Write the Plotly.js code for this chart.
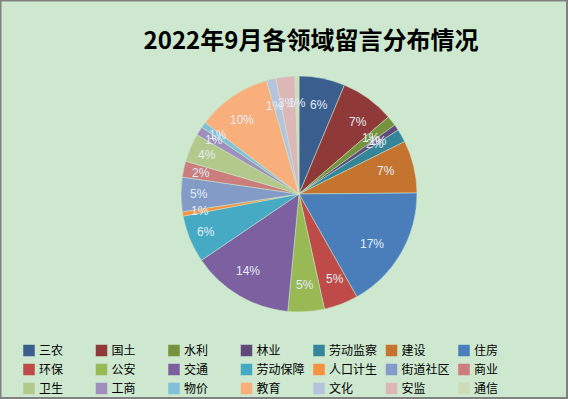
<!DOCTYPE html>
<html><head><meta charset="utf-8">
<script src="https://cdn.plot.ly/plotly-3.0.1.min.js"></script>
<style>html,body{margin:0;padding:0;background:#CDE8CF;}#c{width:568px;height:399px;}</style>
</head><body><div id="c"></div>
<script>
const categories = ['三农','国土','水利','林业','劳动监察','建设','住房','环保','公安','交通','劳动保障','人口计生','街道社区','商业','卫生','工商','物价','教育','文化','安监','通信'];
const values = [6.3,7.4,1.4,0.8,1.8,7.2,17.0,4.7,5.0,14.0,6.5,0.6,4.7,2.2,3.9,1.2,0.8,10.2,1.3,2.6,0.55];
const colors = ['#3A5F8F','#8F3A38','#76923C','#5F4A7A','#34849A','#C4742F','#4A7EBB','#BE4B48','#98B954','#7D60A0','#46AAC5','#F69240','#839BC7','#CB7E7D','#B3C98C','#A08FBC','#7FC1D6','#F9AF7C','#B6C3DD','#DDB6B6','#CDDBB9'];
const W = 568, H = 399, cx = 299, cy = 194, R = 118;
const dom = {x: [(cx-R)/W, (cx+R)/W], y: [1-(cy+R)/H, 1-(cy-R)/H]};
const trace = {
  type: 'pie', labels: categories, values: values, sort: false, direction: 'clockwise', rotation: 0,
  marker: {colors: colors, line: {color: '#CDE8CF', width: 0.5}},
  textinfo: 'none', domain: dom, hoverinfo: 'label+percent'
};
// percentage labels derived from the data (mid-angle of each slice)
const total = values.reduce((a, b) => a + b, 0);
const annotations = [];
let cum = 0;
values.forEach((v, i) => {
  const mid = (cum + v / 2) / total * 2 * Math.PI;
  cum += v;
  const r = 0.85;
  const px = cx + r * R * Math.sin(mid), py = cy - r * R * Math.cos(mid);
  annotations.push({x: px / W, y: 1 - py / H, xref: 'paper', yref: 'paper', showarrow: false,
    text: Math.round(v / total * 100) + '%', font: {family: 'Liberation Sans, sans-serif', size: 12, color: '#E2ECF6'}});
});
const layout = {
  width: W, height: H, margin: {l:0,r:0,t:0,b:0, autoexpand: false},
  paper_bgcolor: '#CDE8CF', plot_bgcolor: '#CDE8CF',
  font: {family: 'Noto Sans CJK SC, sans-serif', color: '#000'},
  title: {text: '<b>2022年9月各领域留言分布情况</b>', x: 311/W, xanchor: 'center', y: 1-41/H, yanchor: 'middle', font: {size: 24, color: '#000', family: 'Noto Sans CJK SC, sans-serif'}},
  showlegend: true,
  legend: {orientation: 'h', x: 9/W, xanchor: 'left', y: 1-336/H, yanchor: 'top', entrywidth: 27.5, entrywidthmode: 'pixels', itemwidth: 30, tracegroupgap: 0, font: {size: 12, color: '#000', family: 'Noto Sans CJK SC, sans-serif'}, bgcolor: 'rgba(0,0,0,0)'},
  annotations: annotations,
  shapes: [{type: 'rect', xref: 'paper', yref: 'paper', x0: 0.5/W, x1: 1-1/W, y0: 1/H, y1: 1-0.5/H, line: {color: '#808080', width: 2}}]
};
Plotly.newPlot('c', [trace], layout, {staticPlot: true}).then(() => {
  document.querySelectorAll('.legendtext').forEach(t => t.setAttribute('x', 30));
});
</script></body></html>
